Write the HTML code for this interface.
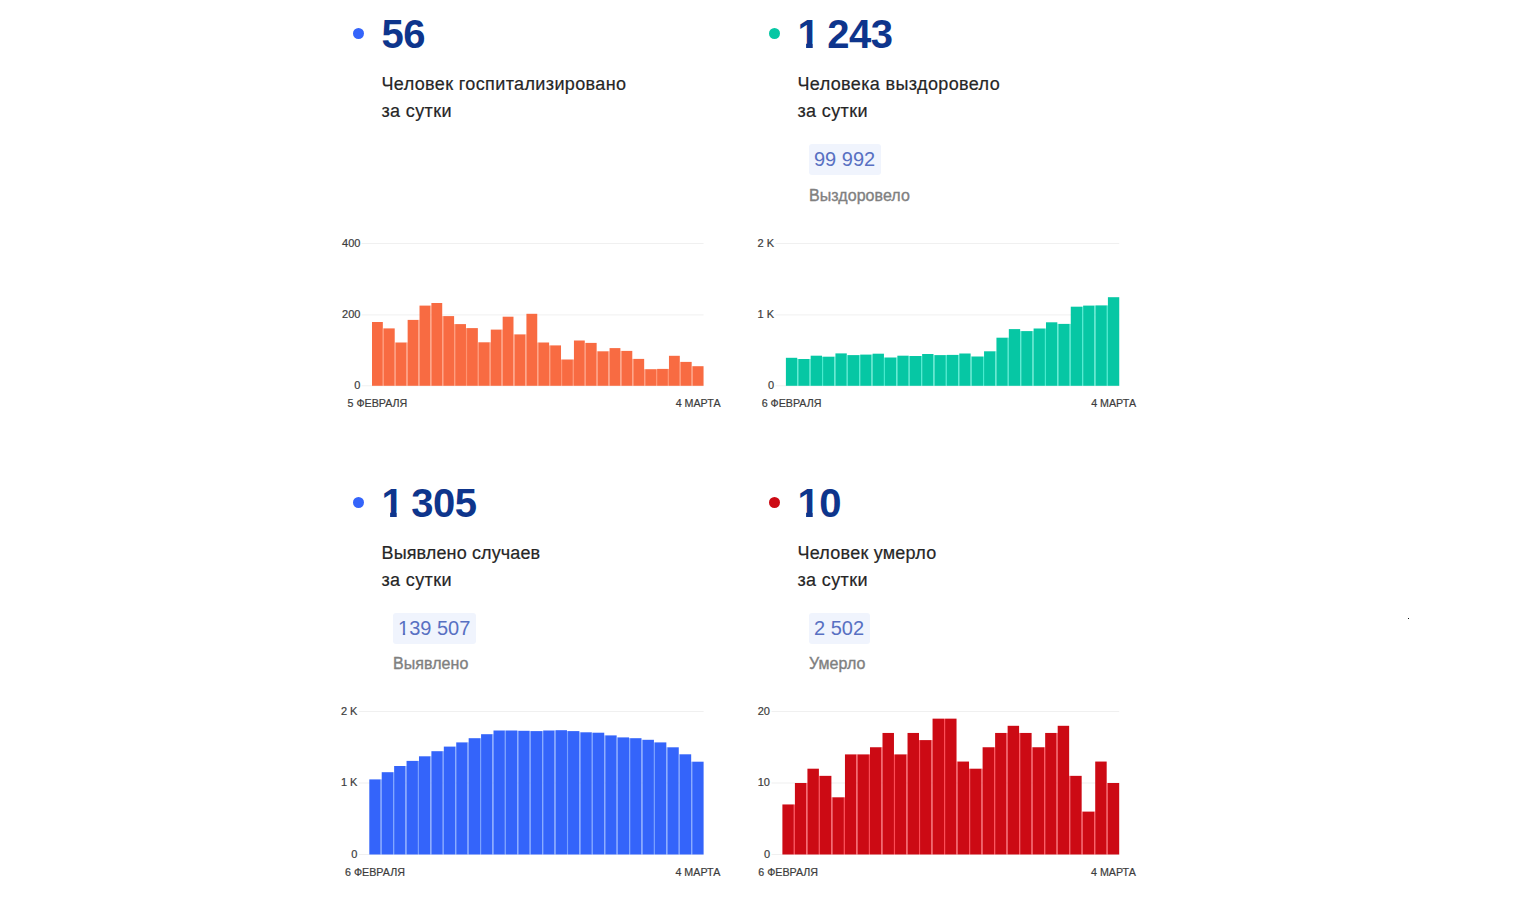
<!DOCTYPE html>
<html lang="ru"><head><meta charset="utf-8"><title>Коронавирус: статистика</title>
<style>
html,body{margin:0;padding:0;background:#fff;}
body{width:1534px;height:907px;position:relative;overflow:hidden;font-family:"Liberation Sans", Arial, sans-serif;}
.dot{position:absolute;width:11px;height:11px;border-radius:50%;}
.num{position:absolute;font-size:40px;font-weight:bold;color:#0e358c;line-height:68px;white-space:nowrap;letter-spacing:-0.5px;word-spacing:-2.5px;}
.one2{display:inline-block;clip-path:polygon(0 0,100% 0,100% 20px,7.2px 20px,7.2px 100%,4.8px 100%,4.8px 20px,0 20px);}
.one{display:inline-block;clip-path:polygon(0 0,100% 0,100% 42.4px,15.2px 42.4px,15.2px 100%,8.6px 100%,8.6px 42.4px,0 42.4px);}
.desc{position:absolute;font-size:18px;color:#262626;line-height:27px;padding-top:71px;letter-spacing:0.37px;-webkit-text-stroke:0.2px #262626;white-space:nowrap;}
.pill{position:absolute;margin-top:144.3px;height:31px;line-height:31px;padding:0 5.5px 0 5px;border-radius:3px;background:#f0f4fd;color:#5870c2;font-size:20px;white-space:nowrap;}
.plab{position:absolute;margin-top:185.6px;font-size:16px;line-height:20px;color:#808080;white-space:nowrap;-webkit-text-stroke:0.35px #808080;letter-spacing:0.05px;}
svg{position:absolute;left:0;top:0;}
.yl{font-size:11px;fill:#3c3c3c;stroke:#3c3c3c;stroke-width:0.2px;}
.xl{font-size:10.7px;fill:#3c3c3c;stroke:#3c3c3c;stroke-width:0.2px;}
svg text{font-family:"Liberation Sans", Arial, sans-serif;}
</style></head><body>
<div class="dot" style="left:353.2px;top:28.3px;background:#3464fa"></div>
<div class="num" style="left:381.5px;top:0.4px">56</div>
<div class="desc" style="left:381.5px;top:0.0px"><span style="letter-spacing:0.37px">Человек госпитализировано</span><br>за сутки</div>
<div class="dot" style="left:769.2px;top:28.3px;background:#06c7a4"></div>
<div class="num" style="left:797.5px;top:0.4px"><span class="one">1</span> 243</div>
<div class="desc" style="left:797.5px;top:0.0px"><span style="letter-spacing:0.37px">Человека выздоровело</span><br>за сутки</div>
<div class="pill" style="left:809.0px;top:0.0px">99 992</div>
<div class="plab" style="left:809.0px;top:0.0px">Выздоровело</div>
<div class="dot" style="left:353.2px;top:497.0px;background:#3464fa"></div>
<div class="num" style="left:381.5px;top:469.1px"><span class="one">1</span> 305</div>
<div class="desc" style="left:381.5px;top:468.7px"><span style="letter-spacing:0.12px">Выявлено случаев</span><br>за сутки</div>
<div class="pill" style="left:393.0px;top:468.7px"><span class="one2">1</span>39 507</div>
<div class="plab" style="left:393.0px;top:468.7px">Выявлено</div>
<div class="dot" style="left:769.2px;top:497.0px;background:#cc0a14"></div>
<div class="num" style="left:797.5px;top:469.1px"><span class="one">1</span>0</div>
<div class="desc" style="left:797.5px;top:468.7px"><span style="letter-spacing:0.23px">Человек умерло</span><br>за сутки</div>
<div class="pill" style="left:809.0px;top:468.7px">2 502</div>
<div class="plab" style="left:809.0px;top:468.7px">Умерло</div>
<div style="position:absolute;left:1408px;top:618px;width:1px;height:1px;background:#111"></div>
<svg width="1534" height="907" viewBox="0 0 1534 907">
<rect x="361.50" y="243.00" width="342.05" height="1" fill="#f0f0f0"/>
<text x="360.40" y="246.80" text-anchor="end" class="yl">400</text>
<rect x="361.50" y="314.40" width="342.05" height="1" fill="#f0f0f0"/>
<text x="360.40" y="318.20" text-anchor="end" class="yl">200</text>
<rect x="361.50" y="385.30" width="342.05" height="1" fill="#f0f0f0"/>
<text x="360.40" y="389.10" text-anchor="end" class="yl">0</text>
<rect x="372.00" y="322.00" width="10.83" height="63.80" fill="#f86b42"/>
<rect x="382.83" y="328.40" width="1.05" height="57.40" fill="#ff9472"/>
<rect x="383.88" y="328.40" width="10.83" height="57.40" fill="#f86b42"/>
<rect x="394.71" y="342.50" width="1.05" height="43.30" fill="#ff9472"/>
<rect x="395.76" y="342.50" width="10.83" height="43.30" fill="#f86b42"/>
<rect x="406.59" y="342.50" width="1.05" height="43.30" fill="#ff9472"/>
<rect x="407.64" y="319.90" width="10.83" height="65.90" fill="#f86b42"/>
<rect x="418.46" y="319.90" width="1.05" height="65.90" fill="#ff9472"/>
<rect x="419.51" y="305.60" width="10.83" height="80.20" fill="#f86b42"/>
<rect x="430.34" y="305.60" width="1.05" height="80.20" fill="#ff9472"/>
<rect x="431.39" y="303.00" width="10.83" height="82.80" fill="#f86b42"/>
<rect x="442.22" y="316.10" width="1.05" height="69.70" fill="#ff9472"/>
<rect x="443.27" y="316.10" width="10.83" height="69.70" fill="#f86b42"/>
<rect x="454.10" y="324.10" width="1.05" height="61.70" fill="#ff9472"/>
<rect x="455.15" y="324.10" width="10.83" height="61.70" fill="#f86b42"/>
<rect x="465.98" y="328.10" width="1.05" height="57.70" fill="#ff9472"/>
<rect x="467.03" y="328.10" width="10.83" height="57.70" fill="#f86b42"/>
<rect x="477.86" y="342.30" width="1.05" height="43.50" fill="#ff9472"/>
<rect x="478.91" y="342.30" width="10.83" height="43.50" fill="#f86b42"/>
<rect x="489.74" y="342.30" width="1.05" height="43.50" fill="#ff9472"/>
<rect x="490.79" y="329.60" width="10.83" height="56.20" fill="#f86b42"/>
<rect x="501.61" y="329.60" width="1.05" height="56.20" fill="#ff9472"/>
<rect x="502.66" y="316.70" width="10.83" height="69.10" fill="#f86b42"/>
<rect x="513.49" y="334.40" width="1.05" height="51.40" fill="#ff9472"/>
<rect x="514.54" y="334.40" width="10.83" height="51.40" fill="#f86b42"/>
<rect x="525.37" y="334.40" width="1.05" height="51.40" fill="#ff9472"/>
<rect x="526.42" y="313.80" width="10.83" height="72.00" fill="#f86b42"/>
<rect x="537.25" y="342.50" width="1.05" height="43.30" fill="#ff9472"/>
<rect x="538.30" y="342.50" width="10.83" height="43.30" fill="#f86b42"/>
<rect x="549.13" y="345.40" width="1.05" height="40.40" fill="#ff9472"/>
<rect x="550.18" y="345.40" width="10.83" height="40.40" fill="#f86b42"/>
<rect x="561.01" y="359.50" width="1.05" height="26.30" fill="#ff9472"/>
<rect x="562.06" y="359.50" width="10.83" height="26.30" fill="#f86b42"/>
<rect x="572.89" y="359.50" width="1.05" height="26.30" fill="#ff9472"/>
<rect x="573.94" y="340.50" width="10.83" height="45.30" fill="#f86b42"/>
<rect x="584.76" y="342.90" width="1.05" height="42.90" fill="#ff9472"/>
<rect x="585.81" y="342.90" width="10.83" height="42.90" fill="#f86b42"/>
<rect x="596.64" y="351.30" width="1.05" height="34.50" fill="#ff9472"/>
<rect x="597.69" y="351.30" width="10.83" height="34.50" fill="#f86b42"/>
<rect x="608.52" y="351.30" width="1.05" height="34.50" fill="#ff9472"/>
<rect x="609.57" y="348.10" width="10.83" height="37.70" fill="#f86b42"/>
<rect x="620.40" y="350.90" width="1.05" height="34.90" fill="#ff9472"/>
<rect x="621.45" y="350.90" width="10.83" height="34.90" fill="#f86b42"/>
<rect x="632.28" y="358.90" width="1.05" height="26.90" fill="#ff9472"/>
<rect x="633.33" y="358.90" width="10.83" height="26.90" fill="#f86b42"/>
<rect x="644.16" y="369.20" width="1.05" height="16.60" fill="#ff9472"/>
<rect x="645.21" y="369.20" width="10.83" height="16.60" fill="#f86b42"/>
<rect x="656.04" y="369.20" width="1.05" height="16.60" fill="#ff9472"/>
<rect x="657.09" y="368.90" width="10.83" height="16.90" fill="#f86b42"/>
<rect x="667.91" y="368.90" width="1.05" height="16.90" fill="#ff9472"/>
<rect x="668.96" y="355.80" width="10.83" height="30.00" fill="#f86b42"/>
<rect x="679.79" y="361.90" width="1.05" height="23.90" fill="#ff9472"/>
<rect x="680.84" y="361.90" width="10.83" height="23.90" fill="#f86b42"/>
<rect x="691.67" y="366.20" width="1.05" height="19.60" fill="#ff9472"/>
<rect x="692.72" y="366.20" width="10.83" height="19.60" fill="#f86b42"/>
<text x="377.41" y="406.80" text-anchor="middle" class="xl">5 ФЕВРАЛЯ</text>
<text x="698.14" y="406.80" text-anchor="middle" class="xl">4 МАРТА</text>
<rect x="775.50" y="243.00" width="343.75" height="1" fill="#f0f0f0"/>
<text x="774.00" y="246.80" text-anchor="end" class="yl">2 K</text>
<rect x="775.50" y="314.40" width="343.75" height="1" fill="#f0f0f0"/>
<text x="774.00" y="318.20" text-anchor="end" class="yl">1 K</text>
<rect x="775.50" y="385.30" width="343.75" height="1" fill="#f0f0f0"/>
<text x="774.00" y="389.10" text-anchor="end" class="yl">0</text>
<rect x="785.90" y="357.80" width="11.34" height="28.00" fill="#06c7a4"/>
<rect x="797.24" y="359.00" width="1.05" height="26.80" fill="#46eccf"/>
<rect x="798.29" y="359.00" width="11.34" height="26.80" fill="#06c7a4"/>
<rect x="809.62" y="359.00" width="1.05" height="26.80" fill="#46eccf"/>
<rect x="810.67" y="355.70" width="11.34" height="30.10" fill="#06c7a4"/>
<rect x="822.01" y="356.70" width="1.05" height="29.10" fill="#46eccf"/>
<rect x="823.06" y="356.70" width="11.34" height="29.10" fill="#06c7a4"/>
<rect x="834.39" y="356.70" width="1.05" height="29.10" fill="#46eccf"/>
<rect x="835.44" y="353.40" width="11.34" height="32.40" fill="#06c7a4"/>
<rect x="846.78" y="355.10" width="1.05" height="30.70" fill="#46eccf"/>
<rect x="847.83" y="355.10" width="11.34" height="30.70" fill="#06c7a4"/>
<rect x="859.16" y="355.10" width="1.05" height="30.70" fill="#46eccf"/>
<rect x="860.21" y="354.60" width="11.34" height="31.20" fill="#06c7a4"/>
<rect x="871.55" y="354.60" width="1.05" height="31.20" fill="#46eccf"/>
<rect x="872.60" y="353.70" width="11.34" height="32.10" fill="#06c7a4"/>
<rect x="883.93" y="357.50" width="1.05" height="28.30" fill="#46eccf"/>
<rect x="884.98" y="357.50" width="11.34" height="28.30" fill="#06c7a4"/>
<rect x="896.32" y="357.50" width="1.05" height="28.30" fill="#46eccf"/>
<rect x="897.37" y="355.70" width="11.34" height="30.10" fill="#06c7a4"/>
<rect x="908.70" y="356.00" width="1.05" height="29.80" fill="#46eccf"/>
<rect x="909.75" y="356.00" width="11.34" height="29.80" fill="#06c7a4"/>
<rect x="921.09" y="356.00" width="1.05" height="29.80" fill="#46eccf"/>
<rect x="922.14" y="354.00" width="11.34" height="31.80" fill="#06c7a4"/>
<rect x="933.47" y="355.10" width="1.05" height="30.70" fill="#46eccf"/>
<rect x="934.52" y="355.10" width="11.34" height="30.70" fill="#06c7a4"/>
<rect x="945.86" y="355.10" width="1.05" height="30.70" fill="#46eccf"/>
<rect x="946.91" y="354.90" width="11.34" height="30.90" fill="#06c7a4"/>
<rect x="958.24" y="354.90" width="1.05" height="30.90" fill="#46eccf"/>
<rect x="959.29" y="353.50" width="11.34" height="32.30" fill="#06c7a4"/>
<rect x="970.63" y="356.50" width="1.05" height="29.30" fill="#46eccf"/>
<rect x="971.68" y="356.50" width="11.34" height="29.30" fill="#06c7a4"/>
<rect x="983.01" y="356.50" width="1.05" height="29.30" fill="#46eccf"/>
<rect x="984.06" y="351.30" width="11.34" height="34.50" fill="#06c7a4"/>
<rect x="995.40" y="351.30" width="1.05" height="34.50" fill="#46eccf"/>
<rect x="996.45" y="337.70" width="11.34" height="48.10" fill="#06c7a4"/>
<rect x="1007.78" y="337.70" width="1.05" height="48.10" fill="#46eccf"/>
<rect x="1008.83" y="329.10" width="11.34" height="56.70" fill="#06c7a4"/>
<rect x="1020.17" y="331.10" width="1.05" height="54.70" fill="#46eccf"/>
<rect x="1021.22" y="331.10" width="11.34" height="54.70" fill="#06c7a4"/>
<rect x="1032.55" y="331.10" width="1.05" height="54.70" fill="#46eccf"/>
<rect x="1033.60" y="328.50" width="11.34" height="57.30" fill="#06c7a4"/>
<rect x="1044.94" y="328.50" width="1.05" height="57.30" fill="#46eccf"/>
<rect x="1045.99" y="322.30" width="11.34" height="63.50" fill="#06c7a4"/>
<rect x="1057.32" y="323.90" width="1.05" height="61.90" fill="#46eccf"/>
<rect x="1058.37" y="323.90" width="11.34" height="61.90" fill="#06c7a4"/>
<rect x="1069.71" y="323.90" width="1.05" height="61.90" fill="#46eccf"/>
<rect x="1070.76" y="306.70" width="11.34" height="79.10" fill="#06c7a4"/>
<rect x="1082.09" y="306.70" width="1.05" height="79.10" fill="#46eccf"/>
<rect x="1083.14" y="305.60" width="11.34" height="80.20" fill="#06c7a4"/>
<rect x="1094.48" y="305.60" width="1.05" height="80.20" fill="#46eccf"/>
<rect x="1095.53" y="305.40" width="11.34" height="80.40" fill="#06c7a4"/>
<rect x="1106.86" y="305.40" width="1.05" height="80.40" fill="#46eccf"/>
<rect x="1107.91" y="297.20" width="11.34" height="88.60" fill="#06c7a4"/>
<text x="791.57" y="406.80" text-anchor="middle" class="xl">6 ФЕВРАЛЯ</text>
<text x="1113.58" y="406.80" text-anchor="middle" class="xl">4 МАРТА</text>
<rect x="359.00" y="711.00" width="344.60" height="1" fill="#f0f0f0"/>
<text x="357.40" y="714.80" text-anchor="end" class="yl">2 K</text>
<rect x="359.00" y="782.50" width="344.60" height="1" fill="#f0f0f0"/>
<text x="357.40" y="786.30" text-anchor="end" class="yl">1 K</text>
<rect x="359.00" y="854.00" width="344.60" height="1" fill="#f0f0f0"/>
<text x="357.40" y="857.80" text-anchor="end" class="yl">0</text>
<rect x="369.30" y="779.40" width="11.37" height="75.10" fill="#3464fa"/>
<rect x="380.67" y="779.40" width="1.05" height="75.10" fill="#78a0ff"/>
<rect x="381.72" y="772.20" width="11.37" height="82.30" fill="#3464fa"/>
<rect x="393.09" y="772.20" width="1.05" height="82.30" fill="#78a0ff"/>
<rect x="394.14" y="766.00" width="11.37" height="88.50" fill="#3464fa"/>
<rect x="405.51" y="766.00" width="1.05" height="88.50" fill="#78a0ff"/>
<rect x="406.56" y="760.90" width="11.37" height="93.60" fill="#3464fa"/>
<rect x="417.93" y="760.90" width="1.05" height="93.60" fill="#78a0ff"/>
<rect x="418.98" y="756.30" width="11.37" height="98.20" fill="#3464fa"/>
<rect x="430.35" y="756.30" width="1.05" height="98.20" fill="#78a0ff"/>
<rect x="431.40" y="751.20" width="11.37" height="103.30" fill="#3464fa"/>
<rect x="442.77" y="751.20" width="1.05" height="103.30" fill="#78a0ff"/>
<rect x="443.82" y="746.60" width="11.37" height="107.90" fill="#3464fa"/>
<rect x="455.19" y="746.60" width="1.05" height="107.90" fill="#78a0ff"/>
<rect x="456.24" y="742.40" width="11.37" height="112.10" fill="#3464fa"/>
<rect x="467.61" y="742.40" width="1.05" height="112.10" fill="#78a0ff"/>
<rect x="468.66" y="738.20" width="11.37" height="116.30" fill="#3464fa"/>
<rect x="480.03" y="738.20" width="1.05" height="116.30" fill="#78a0ff"/>
<rect x="481.08" y="734.20" width="11.37" height="120.30" fill="#3464fa"/>
<rect x="492.45" y="734.20" width="1.05" height="120.30" fill="#78a0ff"/>
<rect x="493.50" y="730.50" width="11.37" height="124.00" fill="#3464fa"/>
<rect x="504.87" y="730.50" width="1.05" height="124.00" fill="#78a0ff"/>
<rect x="505.92" y="730.50" width="11.37" height="124.00" fill="#3464fa"/>
<rect x="517.29" y="730.80" width="1.05" height="123.70" fill="#78a0ff"/>
<rect x="518.34" y="730.80" width="11.37" height="123.70" fill="#3464fa"/>
<rect x="529.71" y="731.10" width="1.05" height="123.40" fill="#78a0ff"/>
<rect x="530.76" y="731.10" width="11.37" height="123.40" fill="#3464fa"/>
<rect x="542.14" y="731.10" width="1.05" height="123.40" fill="#78a0ff"/>
<rect x="543.19" y="730.50" width="11.37" height="124.00" fill="#3464fa"/>
<rect x="554.56" y="730.50" width="1.05" height="124.00" fill="#78a0ff"/>
<rect x="555.61" y="730.20" width="11.37" height="124.30" fill="#3464fa"/>
<rect x="566.98" y="731.10" width="1.05" height="123.40" fill="#78a0ff"/>
<rect x="568.03" y="731.10" width="11.37" height="123.40" fill="#3464fa"/>
<rect x="579.40" y="732.30" width="1.05" height="122.20" fill="#78a0ff"/>
<rect x="580.45" y="732.30" width="11.37" height="122.20" fill="#3464fa"/>
<rect x="591.82" y="732.70" width="1.05" height="121.80" fill="#78a0ff"/>
<rect x="592.87" y="732.70" width="11.37" height="121.80" fill="#3464fa"/>
<rect x="604.24" y="735.40" width="1.05" height="119.10" fill="#78a0ff"/>
<rect x="605.29" y="735.40" width="11.37" height="119.10" fill="#3464fa"/>
<rect x="616.66" y="737.40" width="1.05" height="117.10" fill="#78a0ff"/>
<rect x="617.71" y="737.40" width="11.37" height="117.10" fill="#3464fa"/>
<rect x="629.08" y="738.20" width="1.05" height="116.30" fill="#78a0ff"/>
<rect x="630.13" y="738.20" width="11.37" height="116.30" fill="#3464fa"/>
<rect x="641.50" y="739.80" width="1.05" height="114.70" fill="#78a0ff"/>
<rect x="642.55" y="739.80" width="11.37" height="114.70" fill="#3464fa"/>
<rect x="653.92" y="742.40" width="1.05" height="112.10" fill="#78a0ff"/>
<rect x="654.97" y="742.40" width="11.37" height="112.10" fill="#3464fa"/>
<rect x="666.34" y="747.30" width="1.05" height="107.20" fill="#78a0ff"/>
<rect x="667.39" y="747.30" width="11.37" height="107.20" fill="#3464fa"/>
<rect x="678.76" y="754.30" width="1.05" height="100.20" fill="#78a0ff"/>
<rect x="679.81" y="754.30" width="11.37" height="100.20" fill="#3464fa"/>
<rect x="691.18" y="761.70" width="1.05" height="92.80" fill="#78a0ff"/>
<rect x="692.23" y="761.70" width="11.37" height="92.80" fill="#3464fa"/>
<text x="374.99" y="875.50" text-anchor="middle" class="xl">6 ФЕВРАЛЯ</text>
<text x="697.91" y="875.50" text-anchor="middle" class="xl">4 МАРТА</text>
<rect x="771.50" y="711.00" width="347.70" height="1" fill="#f0f0f0"/>
<text x="770.00" y="714.80" text-anchor="end" class="yl">20</text>
<rect x="771.50" y="782.50" width="347.70" height="1" fill="#f0f0f0"/>
<text x="770.00" y="786.30" text-anchor="end" class="yl">10</text>
<rect x="771.50" y="854.00" width="347.70" height="1" fill="#f0f0f0"/>
<text x="770.00" y="857.80" text-anchor="end" class="yl">0</text>
<rect x="782.40" y="804.45" width="11.46" height="50.05" fill="#cc0a14"/>
<rect x="793.86" y="804.45" width="1.05" height="50.05" fill="#ff4b55"/>
<rect x="794.91" y="783.00" width="11.46" height="71.50" fill="#cc0a14"/>
<rect x="806.38" y="783.00" width="1.05" height="71.50" fill="#ff4b55"/>
<rect x="807.43" y="768.70" width="11.46" height="85.80" fill="#cc0a14"/>
<rect x="818.89" y="775.85" width="1.05" height="78.65" fill="#ff4b55"/>
<rect x="819.94" y="775.85" width="11.46" height="78.65" fill="#cc0a14"/>
<rect x="831.40" y="797.30" width="1.05" height="57.20" fill="#ff4b55"/>
<rect x="832.45" y="797.30" width="11.46" height="57.20" fill="#cc0a14"/>
<rect x="843.91" y="797.30" width="1.05" height="57.20" fill="#ff4b55"/>
<rect x="844.96" y="754.40" width="11.46" height="100.10" fill="#cc0a14"/>
<rect x="856.43" y="754.40" width="1.05" height="100.10" fill="#ff4b55"/>
<rect x="857.48" y="754.40" width="11.46" height="100.10" fill="#cc0a14"/>
<rect x="868.94" y="754.40" width="1.05" height="100.10" fill="#ff4b55"/>
<rect x="869.99" y="747.25" width="11.46" height="107.25" fill="#cc0a14"/>
<rect x="881.45" y="747.25" width="1.05" height="107.25" fill="#ff4b55"/>
<rect x="882.50" y="732.95" width="11.46" height="121.55" fill="#cc0a14"/>
<rect x="893.97" y="754.40" width="1.05" height="100.10" fill="#ff4b55"/>
<rect x="895.02" y="754.40" width="11.46" height="100.10" fill="#cc0a14"/>
<rect x="906.48" y="754.40" width="1.05" height="100.10" fill="#ff4b55"/>
<rect x="907.53" y="732.95" width="11.46" height="121.55" fill="#cc0a14"/>
<rect x="918.99" y="740.10" width="1.05" height="114.40" fill="#ff4b55"/>
<rect x="920.04" y="740.10" width="11.46" height="114.40" fill="#cc0a14"/>
<rect x="931.51" y="740.10" width="1.05" height="114.40" fill="#ff4b55"/>
<rect x="932.56" y="718.65" width="11.46" height="135.85" fill="#cc0a14"/>
<rect x="944.02" y="718.65" width="1.05" height="135.85" fill="#ff4b55"/>
<rect x="945.07" y="718.65" width="11.46" height="135.85" fill="#cc0a14"/>
<rect x="956.53" y="761.55" width="1.05" height="92.95" fill="#ff4b55"/>
<rect x="957.58" y="761.55" width="11.46" height="92.95" fill="#cc0a14"/>
<rect x="969.04" y="768.70" width="1.05" height="85.80" fill="#ff4b55"/>
<rect x="970.09" y="768.70" width="11.46" height="85.80" fill="#cc0a14"/>
<rect x="981.56" y="768.70" width="1.05" height="85.80" fill="#ff4b55"/>
<rect x="982.61" y="747.25" width="11.46" height="107.25" fill="#cc0a14"/>
<rect x="994.07" y="747.25" width="1.05" height="107.25" fill="#ff4b55"/>
<rect x="995.12" y="732.95" width="11.46" height="121.55" fill="#cc0a14"/>
<rect x="1006.58" y="732.95" width="1.05" height="121.55" fill="#ff4b55"/>
<rect x="1007.63" y="725.80" width="11.46" height="128.70" fill="#cc0a14"/>
<rect x="1019.10" y="732.95" width="1.05" height="121.55" fill="#ff4b55"/>
<rect x="1020.15" y="732.95" width="11.46" height="121.55" fill="#cc0a14"/>
<rect x="1031.61" y="747.25" width="1.05" height="107.25" fill="#ff4b55"/>
<rect x="1032.66" y="747.25" width="11.46" height="107.25" fill="#cc0a14"/>
<rect x="1044.12" y="747.25" width="1.05" height="107.25" fill="#ff4b55"/>
<rect x="1045.17" y="732.95" width="11.46" height="121.55" fill="#cc0a14"/>
<rect x="1056.64" y="732.95" width="1.05" height="121.55" fill="#ff4b55"/>
<rect x="1057.69" y="725.80" width="11.46" height="128.70" fill="#cc0a14"/>
<rect x="1069.15" y="775.85" width="1.05" height="78.65" fill="#ff4b55"/>
<rect x="1070.20" y="775.85" width="11.46" height="78.65" fill="#cc0a14"/>
<rect x="1081.66" y="811.60" width="1.05" height="42.90" fill="#ff4b55"/>
<rect x="1082.71" y="811.60" width="11.46" height="42.90" fill="#cc0a14"/>
<rect x="1094.17" y="811.60" width="1.05" height="42.90" fill="#ff4b55"/>
<rect x="1095.22" y="761.55" width="11.46" height="92.95" fill="#cc0a14"/>
<rect x="1106.69" y="783.00" width="1.05" height="71.50" fill="#ff4b55"/>
<rect x="1107.74" y="783.00" width="11.46" height="71.50" fill="#cc0a14"/>
<text x="788.13" y="875.50" text-anchor="middle" class="xl">6 ФЕВРАЛЯ</text>
<text x="1113.47" y="875.50" text-anchor="middle" class="xl">4 МАРТА</text>
</svg>
</body></html>
